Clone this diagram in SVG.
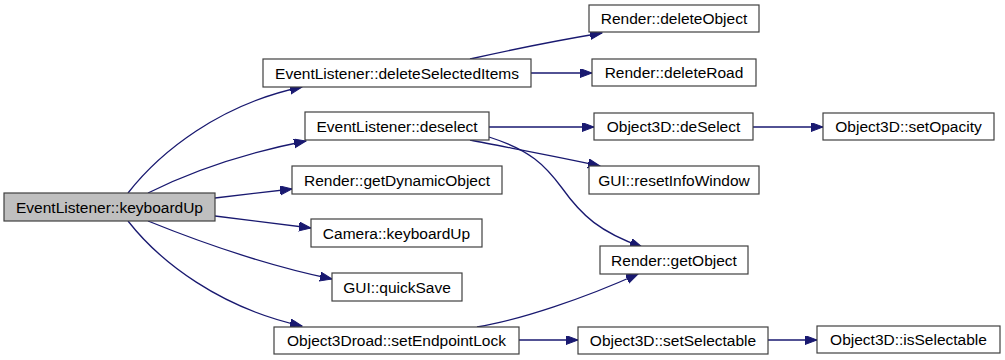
<svg xmlns="http://www.w3.org/2000/svg" width="1005" height="360" viewBox="0 0 1005 360">
  <style>
    .node rect { fill: #ffffff; stroke: #404040; stroke-width: 1.2; }
    .node.root rect { fill: #bfbfbf; }
    .node text { font-family: "Liberation Sans", Arial, sans-serif; font-size: 15.5px; fill: #000000; text-anchor: middle; }
    .edge { fill: none; stroke: #191970; stroke-width: 1.3; marker-end: url(#arrow); }
  </style>
  <defs>
    <marker id="arrow" markerUnits="userSpaceOnUse" markerWidth="13" markerHeight="10" refX="12" refY="4.5" orient="auto">
      <path d="M0,0 L12,4.5 L0,9 z" fill="#191970" stroke="#191970" stroke-width="1"/>
    </marker>
  </defs>

  <rect width="1005" height="360" fill="#ffffff"/>

  <!-- call edges -->
  <g id="edges">
    <path class="edge" d="M128,193 C160,152 220,104 302,87"/>
    <path class="edge" d="M148,193 C190,172 240,154 306,141"/>
    <path class="edge" d="M215,198 L292,189"/>
    <path class="edge" d="M215,216 L311,228"/>
    <path class="edge" d="M148,221 C190,238 260,264 332,279"/>
    <path class="edge" d="M128,221 C160,262 220,308 302,326"/>
    <path class="edge" d="M470,59 C510,50 560,40 602,33"/>
    <path class="edge" d="M531,73 L592,73"/>
    <path class="edge" d="M489,127 L594,127"/>
    <path class="edge" d="M470,140 C510,148 560,157 600,166"/>
    <path class="edge" d="M489,137 C530,150 545,165 562,188 C582,216 600,232 642,247"/>
    <path class="edge" d="M753,127 L823,127"/>
    <path class="edge" d="M477,327 C520,320 585,298 638,274"/>
    <path class="edge" d="M519,340 L578,340"/>
    <path class="edge" d="M768,340 L817,340"/>
  </g>

  <!-- functions -->
  <g id="node-keyboardUp" class="node root">
    <rect x="4" y="193" width="211" height="28"/>
    <text x="109.5" y="212.5">EventListener::keyboardUp</text>
  </g>
  <g id="node-deleteSelectedItems" class="node">
    <rect x="263" y="59" width="268" height="28"/>
    <text x="397" y="78.5">EventListener::deleteSelectedItems</text>
  </g>
  <g id="node-deselect" class="node">
    <rect x="305" y="112" width="184" height="28"/>
    <text x="397" y="131.5">EventListener::deselect</text>
  </g>
  <g id="node-getDynamicObject" class="node">
    <rect x="292" y="166" width="210" height="28"/>
    <text x="397" y="185.5">Render::getDynamicObject</text>
  </g>
  <g id="node-cameraKeyboardUp" class="node">
    <rect x="311" y="219" width="171" height="28"/>
    <text x="396.5" y="238.5">Camera::keyboardUp</text>
  </g>
  <g id="node-quickSave" class="node">
    <rect x="332" y="273" width="130" height="28"/>
    <text x="397" y="292.5">GUI::quickSave</text>
  </g>
  <g id="node-setEndpointLock" class="node">
    <rect x="274" y="327" width="245" height="27"/>
    <text x="396.5" y="346">Object3Droad::setEndpointLock</text>
  </g>
  <g id="node-deleteObject" class="node">
    <rect x="589" y="5" width="170" height="27"/>
    <text x="674" y="24">Render::deleteObject</text>
  </g>
  <g id="node-deleteRoad" class="node">
    <rect x="592" y="59" width="164" height="27"/>
    <text x="674" y="78">Render::deleteRoad</text>
  </g>
  <g id="node-deSelect" class="node">
    <rect x="594" y="113" width="159" height="27"/>
    <text x="673.5" y="132">Object3D::deSelect</text>
  </g>
  <g id="node-resetInfoWindow" class="node">
    <rect x="589" y="166" width="170" height="28"/>
    <text x="674" y="185.5">GUI::resetInfoWindow</text>
  </g>
  <g id="node-getObject" class="node">
    <rect x="600" y="246" width="148" height="28"/>
    <text x="674" y="265.5">Render::getObject</text>
  </g>
  <g id="node-setSelectable" class="node">
    <rect x="578" y="327" width="190" height="27"/>
    <text x="673" y="346">Object3D::setSelectable</text>
  </g>
  <g id="node-setOpacity" class="node">
    <rect x="823" y="113" width="171" height="27"/>
    <text x="908.5" y="132">Object3D::setOpacity</text>
  </g>
  <g id="node-isSelectable" class="node">
    <rect x="817" y="326" width="183" height="27"/>
    <text x="908.5" y="345">Object3D::isSelectable</text>
  </g>
</svg>
